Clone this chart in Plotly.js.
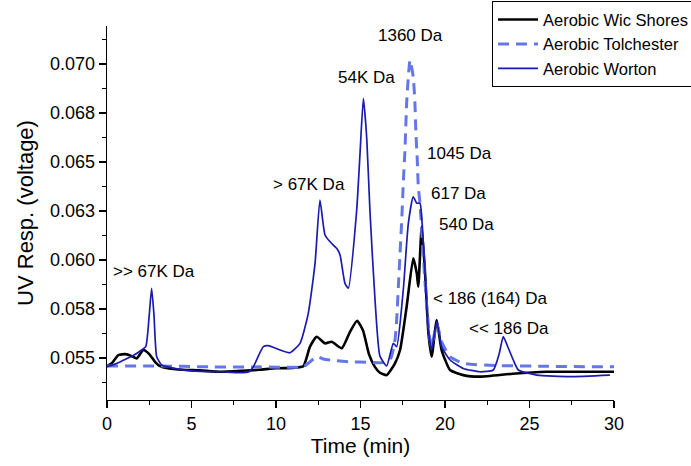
<!DOCTYPE html>
<html>
<head>
<meta charset="utf-8">
<script src="https://cdn.plot.ly/plotly-3.0.1.min.js"></script>
<style>html,body{margin:0;padding:0;background:#fff;}#chart{width:691px;height:466px;}</style>
</head>
<body>
<div id="chart"></div>
<script>
// ---- data ----
const seriesNames = ["Aerobic Wic Shores", "Aerobic Tolchester", "Aerobic Worton"];

const wicTime = [0,0.3,0.67,1.1,1.46,1.76,2.15,2.5,2.84,3.14,3.6,4.5,5.5,6.7,8.0,9.0,10.0,11.0,11.62,12.01,12.41,12.9,13.3,13.89,14.38,14.8,15.15,15.5,15.85,16.15,16.55,17.04,17.34,17.73,18.12,18.33,18.42,18.62,18.82,19.02,19.21,19.51,19.8,20.3,21.08,22.07,24,26,28,30];
const wicResp = [0.05459,0.05475,0.05515,0.0552,0.0551,0.05498,0.05541,0.0552,0.05481,0.05459,0.05448,0.0544,0.05437,0.0543,0.05435,0.0544,0.05448,0.0545,0.05458,0.05558,0.05609,0.05575,0.05583,0.0555,0.05634,0.0569,0.0564,0.0552,0.05455,0.05425,0.05413,0.05473,0.05541,0.05762,0.06009,0.05932,0.05864,0.0617,0.05932,0.05626,0.05507,0.05694,0.05541,0.05439,0.05413,0.05405,0.0542,0.0543,0.0543,0.0543];

const tolTime = [0,3,6,9,11.62,12.0,12.41,12.8,13.2,14.38,15.5,16.5,16.8,17.04,17.14,17.24,17.34,17.44,17.53,17.63,17.73,17.83,17.93,18.12,18.22,18.28,18.36,18.42,18.52,18.62,18.72,18.92,19.11,19.21,19.51,19.8,20.3,21.08,23,26,30];
const tolResp = [0.05459,0.0546,0.05455,0.05455,0.05456,0.0548,0.05507,0.05495,0.0549,0.05481,0.05478,0.05478,0.0550,0.05592,0.05694,0.05864,0.06034,0.06204,0.0639,0.0656,0.068,0.06935,0.0702,0.06935,0.068,0.06646,0.0651,0.06374,0.0629,0.06153,0.06017,0.05762,0.05592,0.05558,0.05677,0.05583,0.05507,0.05473,0.05462,0.05458,0.05455];

const worTime = [0,0.5,1.0,1.5,2.05,2.3,2.5,2.64,2.78,2.94,3.24,3.53,4.5,5.5,6.7,7.87,8.4,8.66,9.25,9.54,10.24,10.83,11.42,11.91,12.31,12.6,12.9,13.2,13.59,13.79,14.08,14.28,14.77,14.97,15.17,15.37,15.56,15.86,16.15,16.55,16.94,17.14,17.53,17.83,18.12,18.33,18.52,18.62,18.82,19.01,19.21,19.51,19.8,20.3,21.08,22.07,22.86,23.2,23.45,23.75,24.04,24.34,25.43,27.4,29.76];
const worResp = [0.05456,0.0547,0.0549,0.0551,0.05541,0.0556,0.0572,0.05856,0.0572,0.05507,0.05464,0.05456,0.0544,0.05432,0.0543,0.05425,0.0543,0.05456,0.05558,0.05563,0.05541,0.05527,0.05575,0.05728,0.05983,0.06306,0.06128,0.06093,0.0606,0.06026,0.05881,0.05856,0.06249,0.0654,0.06825,0.0662,0.06249,0.05796,0.0551,0.0546,0.05575,0.05558,0.05847,0.06187,0.06323,0.0629,0.0629,0.0622,0.05932,0.05643,0.05541,0.05685,0.05558,0.0549,0.05447,0.0543,0.05439,0.0552,0.05609,0.0555,0.0549,0.05439,0.05413,0.05405,0.05413];

const xTickVals = [0,5,10,15,20,25,30];
const yTickVals = [0.055,0.0575,0.06,0.0625,0.065,0.0675,0.07];
const yTickText = ["0.055","0.058","0.060","0.063","0.065","0.068","0.070"];

const peakLabels = [">> 67K Da", "> 67K Da", "54K Da", "1360 Da", "1045 Da", "617 Da", "540 Da", "< 186 (164) Da", "<< 186 Da"];
const peakLabelTime = [2.81, 11.95, 15.33, 17.96, 20.83, 20.77, 21.3, 22.66, 23.79];
const peakLabelResp = [0.05944, 0.06383, 0.06929, 0.07148, 0.06546, 0.06342, 0.06179, 0.05806, 0.05653];

// ---- chart ----
const FONT = "Liberation Sans, Arial, sans-serif";
const traces = [
  {x: wicTime, y: wicResp, name: seriesNames[0], mode: "lines",
   line: {color: "#000000", width: 2.6, shape: "spline", smoothing: 0.5}},
  {x: tolTime, y: tolResp, name: seriesNames[1], mode: "lines",
   line: {color: "#6577e6", width: 3, dash: "11px,7px", shape: "spline", smoothing: 0.5}},
  {x: worTime, y: worResp, name: seriesNames[2], mode: "lines",
   line: {color: "#1b1bb0", width: 1.7, shape: "spline", smoothing: 0.5}}
];

const annotations = peakLabels.map((t, i) => ({
  x: peakLabelTime[i], y: peakLabelResp[i], xref: "x", yref: "y",
  text: t, showarrow: false, xanchor: "center", yanchor: "middle",
  font: {family: FONT, size: 17, color: "#000"}
}));

const layout = {
  width: 691, height: 466,
  margin: {l: 107, r: 77, t: 26, b: 66, autoexpand: false},
  paper_bgcolor: "#fff", plot_bgcolor: "#fff",
  font: {family: FONT, color: "#000"},
  showlegend: true,
  legend: {
    x: 0.7594, y: 1.066, xanchor: "left", yanchor: "top",
    bgcolor: "#fff", bordercolor: "#000", borderwidth: 1,
    font: {family: FONT, size: 16.5, color: "#000"},
    itemwidth: 40, tracegroupgap: 0
  },
  xaxis: {
    range: [0, 30], tickmode: "array", tickvals: xTickVals,
    showline: true, linecolor: "#000", linewidth: 1.3,
    ticks: "outside", ticklen: 7, tickwidth: 1.3, tickcolor: "#000",
    minor: {tickmode: "linear", tick0: 0, dtick: 2.5, ticks: "outside", ticklen: 4, tickcolor: "#000", tickwidth: 1.2},
    showgrid: false, zeroline: false,
    tickfont: {family: FONT, size: 18, color: "#000"},
    title: {text: "Time (min)", font: {family: FONT, size: 21, color: "#000"}, standoff: 2}
  },
  yaxis: {
    range: [0.05286, 0.07194], tickmode: "array", tickvals: yTickVals, ticktext: yTickText,
    showline: true, linecolor: "#000", linewidth: 1.3,
    ticks: "outside", ticklen: 7, tickwidth: 1.3, tickcolor: "#000",
    minor: {tickmode: "linear", tick0: 0.05375, dtick: 0.0025, ticks: "outside", ticklen: 4, tickcolor: "#000", tickwidth: 1.2},
    showgrid: false, zeroline: false,
    tickfont: {family: FONT, size: 18, color: "#000"},
    title: {text: "UV Resp. (voltage)", font: {family: FONT, size: 22, color: "#000"}, standoff: 10}
  },
  annotations: annotations
};

Plotly.newPlot("chart", traces, layout, {staticPlot: true, displayModeBar: false});
</script>
</body>
</html>
